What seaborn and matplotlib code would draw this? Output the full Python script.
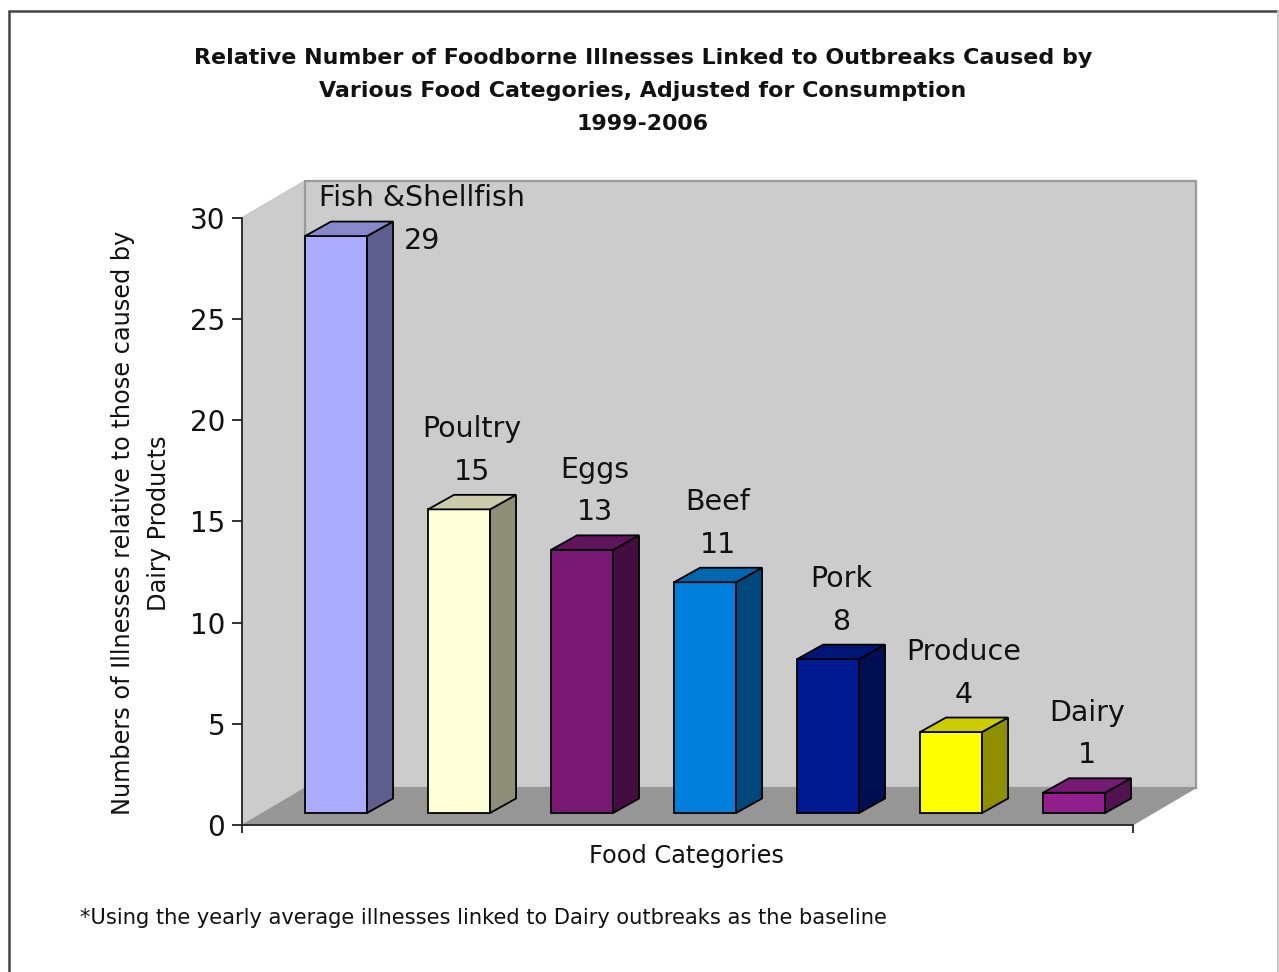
import matplotlib
matplotlib.use("Agg")
import matplotlib.pyplot as plt
import matplotlib.colors as mcolors
from matplotlib.patches import Polygon, Rectangle
from matplotlib.lines import Line2D
from matplotlib.transforms import Affine2D
import seaborn as sns
import pandas as pd

# ---------------- data ----------------
categories = ["Fish &Shellfish", "Poultry", "Eggs", "Beef", "Pork", "Produce", "Dairy"]
values = [28.5, 15.0, 13.0, 11.4, 7.6, 4.0, 1.0]
bar_colors = ["#aaaaff", "#ffffd8", "#7a1876", "#0080dc", "#001a92", "#ffff00", "#931f8f"]
y_ticks = [0, 5, 10, 15, 20, 25, 30]

title = ("Relative Number of Foodborne Illnesses Linked to Outbreaks Caused by\n"
         "Various Food Categories, Adjusted for Consumption\n1999-2006")
ylabel = "Numbers of Illnesses relative to those caused by\nDairy Products"
xlabel = "Food Categories"
footnote = "*Using the yearly average illnesses linked to Dairy outbreaks as the baseline"

# ---------------- figure ----------------
W, H = 1279, 972
sns.set_theme(style="white")
plt.rcParams["font.family"] = ["DejaVu Sans"]

fig = plt.figure(figsize=(W / 100, H / 100), dpi=100)
fig.patch.set_facecolor("white")

# front plane of the 3D box (image pixel coordinates)
L, R, B, T = 242, 1133, 825, 217.7
ax = fig.add_axes([L / W, 1 - B / H, (R - L) / W, (B - T) / H])
ax.set_facecolor("none")

X0, X1 = -0.602, 6.642
YMAX = 30
pxx = (R - L) / (X1 - X0)
pxy = (B - T) / YMAX


def off(dx_px, dy_px):
    return dx_px / pxx, dy_px / pxy


WX, WY = off(63, 37)      # depth of the whole box
PX, PY = off(20, 12)      # plane in which the bars stand
DX, DY = off(26, 14.5)    # depth of each bar

# walls and floor
wall_col, floor_col = "#cccccc", "#969696"
ax.add_patch(Polygon([(X0, 0), (X0, YMAX), (X0 + WX, YMAX + WY), (X0 + WX, WY)],
                     closed=True, facecolor=wall_col, edgecolor="#c4c4c4", lw=0.8,
                     clip_on=False, zorder=0.5))
ax.add_patch(Rectangle((X0 + WX, WY), X1 - X0, YMAX, facecolor=wall_col,
                       edgecolor="#9a9a9a", lw=1.6, clip_on=False, zorder=0.5))
ax.add_patch(Polygon([(X0, 0), (X1, 0), (X1 + WX, WY), (X0 + WX, WY)],
                     closed=True, facecolor=floor_col, edgecolor=floor_col, lw=0.5,
                     clip_on=False, zorder=0.6))

# bars (front faces) via seaborn
df = pd.DataFrame({"category": categories, "value": values})
sns.barplot(data=df, x="category", y="value", hue="category", hue_order=categories,
            order=categories, palette=bar_colors, saturation=1, legend=False,
            width=0.504, edgecolor="black", linewidth=1.3, ax=ax, zorder=3)

plane = Affine2D().translate(PX, PY) + ax.transData


def shade(c, f):
    r, g, b = mcolors.to_rgb(c)
    return (r * f, g * f, b * f)


bars = [p for p in ax.patches if isinstance(p, Rectangle) and p.get_width() < 1]
bars = sorted(bars, key=lambda p: p.get_x())

for i, p in enumerate(bars):
    p.set_transform(plane)
    p.set_clip_on(False)
    x0, w, h = p.get_x(), p.get_width(), p.get_height()
    col = bar_colors[i]
    side = Polygon([(x0 + w, 0), (x0 + w + DX, DY), (x0 + w + DX, h + DY), (x0 + w, h)],
                   closed=True, facecolor=shade(col, 0.56), edgecolor="black", lw=1.3,
                   transform=plane, clip_on=False, zorder=3)
    top = Polygon([(x0, h), (x0 + w, h), (x0 + w + DX, h + DY), (x0 + DX, h + DY)],
                  closed=True, facecolor=shade(col, 0.8), edgecolor="black", lw=1.3,
                  transform=plane, clip_on=False, zorder=3)
    ax.add_patch(side)
    ax.add_patch(top)

    label = f"{categories[i]}\n{int(values[i] + 0.5)}"
    anchor = (x0 + w / 2 + DX / 2, h + DY)
    if h + DY + 90 / pxy > YMAX + WY:
        xytext = (73, -27)
    else:
        xytext = (0, 15)
    ax.annotate(label, xy=anchor, xycoords=plane, xytext=xytext,
                textcoords="offset pixels", ha="center", va="baseline",
                multialignment="center", fontsize=20.5, linespacing=1.67,
                color="#111111", zorder=6, annotation_clip=False)

# axes styling
ax.set_xlim(X0, X1)
ax.set_ylim(0, YMAX)
ax.set_yticks(y_ticks)
ax.set_yticklabels([str(t) for t in y_ticks])
ax.set_xticks([X0, X1])
ax.set_xticklabels(["", ""])
ax.set_xlabel("")
ax.set_ylabel("")
for s in ["top", "right"]:
    ax.spines[s].set_visible(False)
for s in ["left", "bottom"]:
    ax.spines[s].set_color("#222222")
    ax.spines[s].set_linewidth(1.3)
    ax.spines[s].set_zorder(4)
ax.tick_params(axis="y", left=True, direction="out", length=7.2, width=1.3,
               color="#222222", labelsize=20, pad=5, labelcolor="#111111")
ax.tick_params(axis="x", bottom=True, direction="out", length=6, width=1.3,
               color="#222222")

# texts
fig.text(643 / W, 1 - 91 / H, title, ha="center", va="center", fontsize=15.9,
         fontweight="bold", linespacing=1.785, color="#111111")
fig.text(141 / W, 1 - 523 / H, ylabel, rotation=90, ha="center", va="center",
         multialignment="center", fontsize=17.3, linespacing=1.68, color="#111111")
fig.text(686 / W, 1 - 856 / H, xlabel, ha="center", va="center", fontsize=17.3,
         color="#111111")
fig.text(80 / W, 1 - 918 / H, footnote, ha="left", va="center", fontsize=15.1,
         color="#111111")

# outer frame
fig.add_artist(Line2D([8.5 / W, 8.5 / W], [1 - 11.5 / H, 0], color="#444444", lw=1.8))
fig.add_artist(Line2D([8.5 / W, 1277.5 / W], [1 - 11.5 / H, 1 - 11.5 / H], color="#444444", lw=1.8))
fig.add_artist(Line2D([1277.5 / W, 1277.5 / W], [1 - 11.5 / H, 0], color="#c8c8c8", lw=1.5))

fig.savefig("out.png", dpi=100)
